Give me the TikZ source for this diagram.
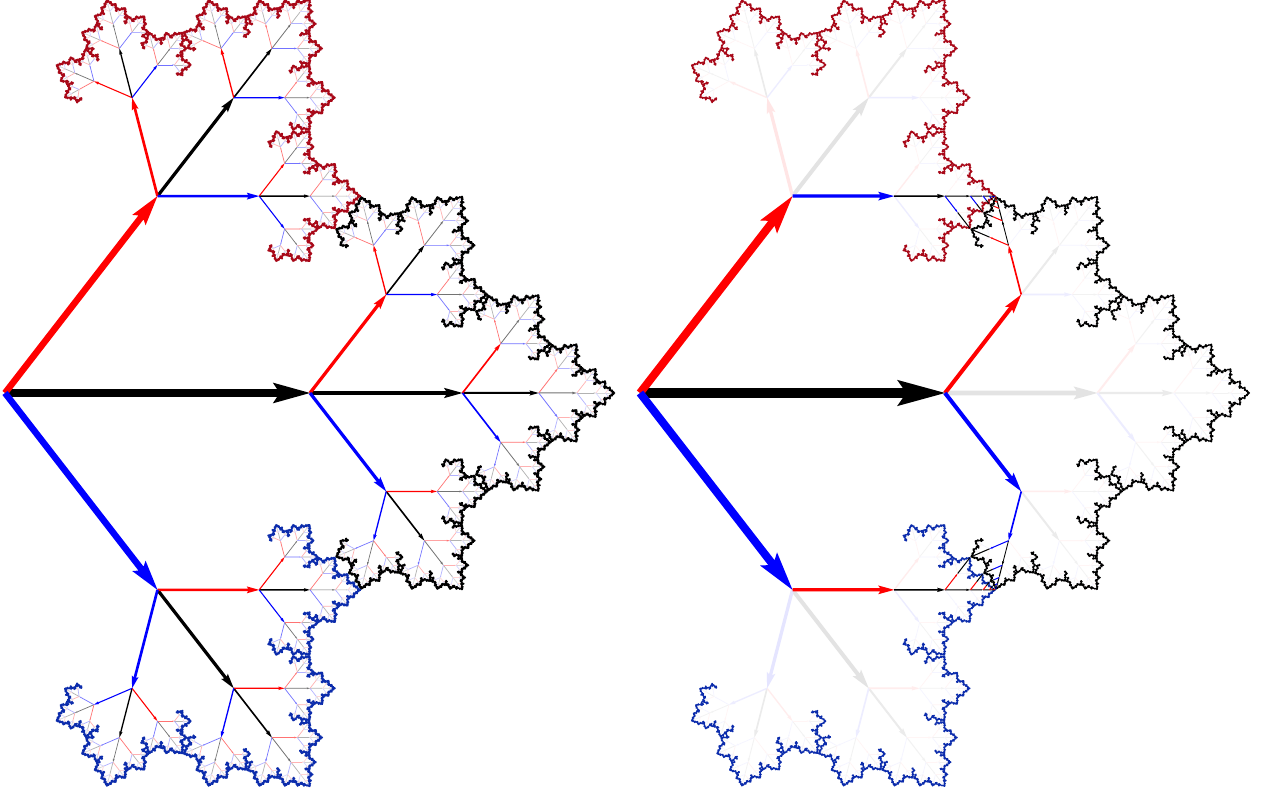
\documentclass[tikz,border=0pt]{standalone}
\colorlet{ck0}{black}\colorlet{cr0}{red}\colorlet{cb0}{blue}
\colorlet{ck1}{black!55}\colorlet{cr1}{red!55}\colorlet{cb1}{blue!55}
\colorlet{ck2}{black!30}\colorlet{cr2}{red!30}\colorlet{cb2}{blue!30}
\colorlet{ck3}{black!16}\colorlet{cr3}{red!16}\colorlet{cb3}{blue!16}
\colorlet{ck4}{black!11}\colorlet{cr4}{red!10}\colorlet{cb4}{blue!10}
\colorlet{ck5}{black!8}\colorlet{cr5}{red!7}\colorlet{cb5}{blue!7}
\colorlet{ck6}{black!5}\colorlet{cr6}{red!4}\colorlet{cb6}{blue!4}
\definecolor{leafk}{RGB}{0,0,0}
\definecolor{leafr}{RGB}{168,8,24}
\definecolor{leafb}{RGB}{12,44,172}
% child directions, 1e6 units
\def\dxk{1000000}\def\dyk{0}
\def\dxr{500000}\def\dyr{645497}
\def\dxb{500000}\def\dyb{-645497}
\def\LL{19988480}% 305pt in sp
% word language of the highlighted branches
\def\trans#1#2#3{\expandafter\def\csname tr#1#2\endcsname{#3}}
\trans{0}{r}{1}\trans{0}{b}{2}\trans{0}{k}{3}
\trans{1}{b}{4}\trans{4}{k}{14}\trans{14}{k}{14}\trans{14}{b}{5}\trans{5}{k}{5}
\trans{2}{r}{6}\trans{6}{k}{16}\trans{16}{k}{16}\trans{16}{r}{7}\trans{7}{k}{7}
\trans{3}{r}{8}\trans{8}{r}{10}\trans{10}{k}{10}\trans{10}{r}{11}\trans{11}{k}{11}
\trans{3}{b}{9}\trans{9}{b}{12}\trans{12}{k}{12}\trans{12}{b}{13}\trans{13}{k}{13}
\def\thresh{97}\def\prune{0}
\def\afterchild#1{}
% #1 x #2 y #3 sx #4 sy #5 level #6 tile #7 state
\def\visit#1#2#3#4#5#6#7{%
  \stepb{#1}{#2}{#3}{#4}{#5}{#6}{#7}{k}%
  \stepb{#1}{#2}{#3}{#4}{#5}{#6}{#7}{r}%
  \stepb{#1}{#2}{#3}{#4}{#5}{#6}{#7}{b}%
}
\def\stepb#1#2#3#4#5#6#7#8{%
  \edef\vxx{\the\numexpr #3*\csname dx#8\endcsname/1000000-(#4)*\csname dy#8\endcsname/1000000\relax}%
  \edef\vyy{\the\numexpr #3*\csname dy#8\endcsname/1000000+#4*\csname dx#8\endcsname/1000000\relax}%
  \edef\cxx{\the\numexpr #1+\vxx*\LL/1000000\relax}%
  \edef\cyy{\the\numexpr #2+\vyy*\LL/1000000\relax}%
  \edef\lsq{\the\numexpr \vxx*\vxx/1000000+\vyy*\vyy/1000000\relax}%
  \edef\st{\ifcsname tr#7#8\endcsname\csname tr#7#8\endcsname\else -1\fi}%
  \edef\tl{\ifnum#5=1 #8\else #6\fi}%
  \act{#1}{#2}{#5}{#8}%
  \def\goon{0}%
  \ifnum\lsq>\thresh\relax
    \ifnum\prune=1 \ifnum\st<0 \else\def\goon{1}\fi\else\def\goon{1}\fi
  \fi
  \ifnum\goon=1 
    \edef\next{\noexpand\visit{\cxx}{\cyy}{\the\numexpr\vxx/2\relax}{\the\numexpr\vyy/2\relax}{\the\numexpr#5+1\relax}{\tl}{\st}}%
    \expandafter\next
  \fi
  \afterchild{#5}%
}
\def\spt#1#2{\pgfqpoint{\the\numexpr#1\relax sp}{\the\numexpr#2\relax sp}}
\def\doarrow#1#2#3{%
  \pgfsetfillcolor{#3}\pgfsetstrokecolor{#3}%
  \edef\px{\the\numexpr\cxx-#1\relax}\edef\py{\the\numexpr\cyy-#2\relax}%
  \edef\bx{\the\numexpr\cxx-\px*\hr/1000\relax}\edef\by{\the\numexpr\cyy-\py*\hr/1000\relax}%
  \edef\nx{\the\numexpr\cxx-\px*\nr/1000\relax}\edef\ny{\the\numexpr\cyy-\py*\nr/1000\relax}%
  \edef\qx{\the\numexpr-\py*\hw/1000\relax}\edef\qy{\the\numexpr\px*\hw/1000\relax}%
  \edef\wx{\the\numexpr-\py*\sw/1000\relax}\edef\wy{\the\numexpr\px*\sw/1000\relax}%
  \ifnum\lsq>\polylim\relax
    \pgfpathmoveto{\spt{#1+\wx}{#2+\wy}}%
    \pgfpathlineto{\spt{\nx+\wx}{\ny+\wy}}%
    \pgfpathlineto{\spt{\bx+\qx}{\by+\qy}}%
    \pgfpathlineto{\spt{\cxx}{\cyy}}%
    \pgfpathlineto{\spt{\bx-\qx}{\by-\qy}}%
    \pgfpathlineto{\spt{\nx-\wx}{\ny-\wy}}%
    \pgfpathlineto{\spt{#1-\wx}{#2-\wy}}%
    \pgfpathclose\pgfusepath{fill}%
  \else
    \pgfsetlinewidth{\thinw}%
    \ifnum\lsq>1548\relax
      \pgfpathmoveto{\spt{#1}{#2}}\pgfpathlineto{\spt{\nx}{\ny}}\pgfusepath{stroke}%
      \pgfpathmoveto{\spt{\bx+\qx}{\by+\qy}}%
      \pgfpathlineto{\spt{\cxx}{\cyy}}%
      \pgfpathlineto{\spt{\bx-\qx}{\by-\qy}}%
      \pgfpathlineto{\spt{\nx}{\ny}}%
      \pgfpathclose\pgfusepath{fill}%
    \else
      \pgfpathmoveto{\spt{#1}{#2}}\pgfpathlineto{\spt{\cxx}{\cyy}}\pgfusepath{stroke}%
    \fi
  \fi
}
% left panel: fading by level
\def\actfade#1#2#3#4{%
  \edef\idx{\ifnum#3<4 0\else\ifnum#3=4 1\else\ifnum#3=5 2\else 3\fi\fi\fi}%
  \doarrow{#1}{#2}{c#4\idx}%
}
% right panel: pale everywhere, paler with depth
\def\actpale#1#2#3#4{%
  \edef\idx{\ifnum#3<3 4\else\ifnum#3=3 5\else 6\fi\fi}%
  \doarrow{#1}{#2}{c#4\idx}%
}
% right panel: branches of the language
\def\acthigh#1#2#3#4{\ifnum\st<0 \else\doarrow{#1}{#2}{c#40}\fi}
% dark curve
\def\actleaf#1#2#3#4{%
  \ifnum#3=1 \pgfsetstrokecolor{leaf\tl}\fi
  \ifnum\lsq<\leaflim\relax
    \pgfpathmoveto{\spt{#1}{#2}}\pgfpathlineto{\spt{\cxx}{\cyy}}%
  \fi
}
\def\afterleaf#1{\ifnum#1=4 \pgfusepath{stroke}\fi}
\def\noafter#1{}
\def\runpass#1#2{\visit{#1}{#2}{1000000}{0}{1}{k}{0}}
\begin{document}
\begin{tikzpicture}[x=1pt,y=1pt]
\path[use as bounding box,fill=white] (0,0) rectangle (1262,797);
% ---------- left panel ----------
\begin{pgfscope}
\def\hr{122}\def\nr{108}\def\hw{34}\def\sw{13}\def\polylim{6719}\def\thinw{0.7pt}
\let\act\actfade\let\afterchild\noafter\def\thresh{60}\def\prune{0}
\runpass{327680}{26476544}
\end{pgfscope}
\begin{pgfscope}
\pgfsetroundcap\pgfsetroundjoin\pgfsetlinewidth{1.7pt}
\def\leaflim{25}\def\thresh{6}\def\prune{0}
\let\act\actleaf\let\afterchild\afterleaf
\runpass{327680}{26476544}
\end{pgfscope}
% ---------- right panel ----------
\begin{pgfscope}
\def\hr{157}\def\nr{138}\def\hw{43}\def\sw{16}\def\polylim{6719}\def\thinw{0.7pt}
\let\act\actpale\let\afterchild\noafter\def\thresh{97}\def\prune{0}
\runpass{41943040}{26476544}
\end{pgfscope}
\begin{pgfscope}
\pgfsetroundcap\pgfsetroundjoin\pgfsetlinewidth{1.2pt}
\def\leaflim{25}\def\thresh{6}\def\prune{0}
\let\act\actleaf\let\afterchild\afterleaf
\runpass{41943040}{26476544}
\end{pgfscope}
\begin{pgfscope}
\def\hr{157}\def\nr{138}\def\hw{43}\def\sw{16}\def\polylim{6719}\def\thinw{1pt}
\let\act\acthigh\let\afterchild\noafter\def\thresh{8}\def\prune{1}
\runpass{41943040}{26476544}
\end{pgfscope}
\end{tikzpicture}
\end{document}
